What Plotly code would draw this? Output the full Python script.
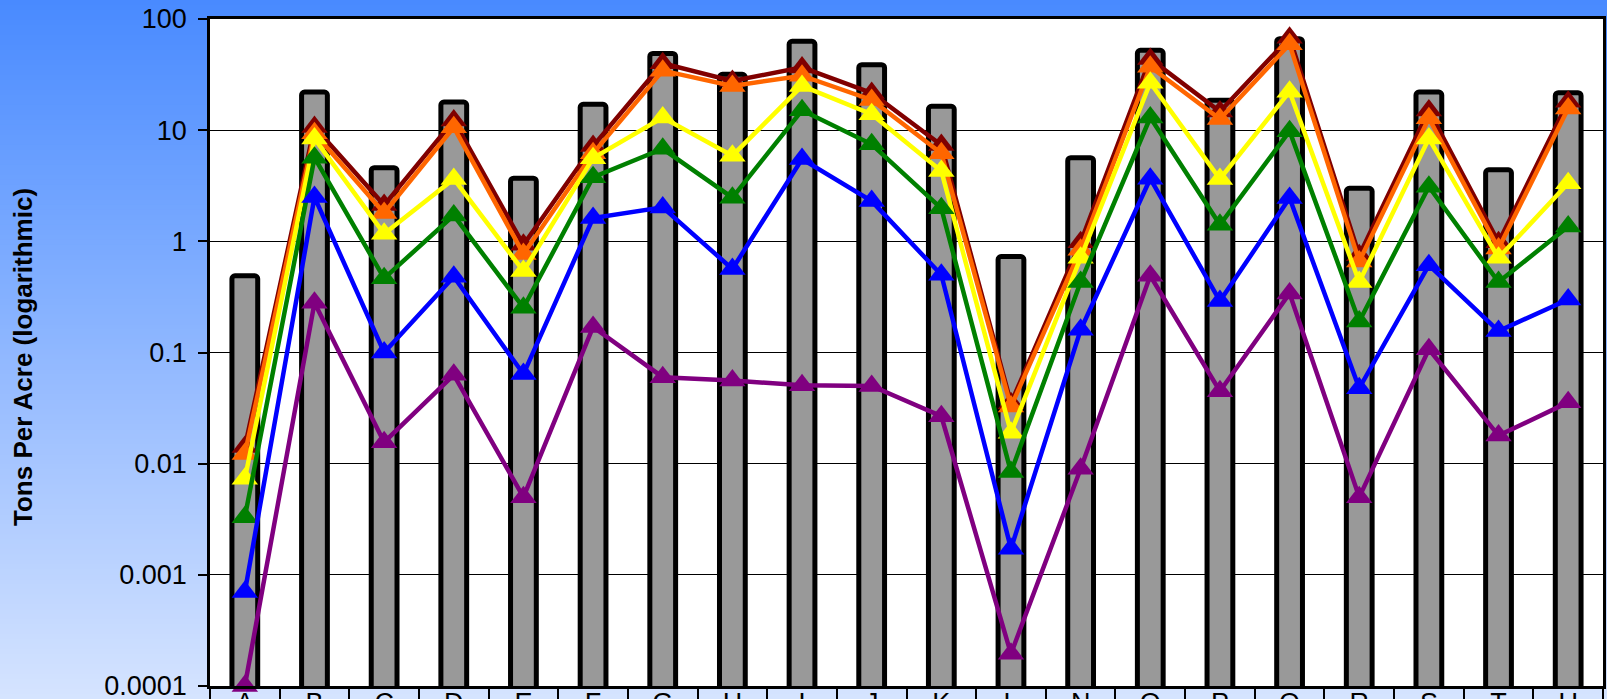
import plotly.graph_objects as go

# ---------------- data ----------------
categories = ["A", "B", "C", "D", "E", "F", "G", "H", "I", "J",
              "K", "L", "N", "O", "P", "Q", "R", "S", "T", "U"]

bar_values = [0.49, 22, 4.6, 17.9, 3.7, 17.1, 49, 31.8, 63, 38.8,
              16.4, 0.73, 5.65, 52.3, 18.6, 66.5, 3.0, 22, 4.4, 21.7]

darkred_values = [0.0141, 10.7, 2.12, 12.2, 0.93, 7.2, 40, 27.7, 36.7, 21.6,
                  7.35, 0.035, 0.98, 43.7, 14.7, 67.9, 0.75, 15, 0.98, 18]
orange_values = [0.0122, 9.4, 1.8, 10.6, 0.77, 6.2, 34.3, 25, 30.9, 18.7,
                 6.2, 0.0326, 0.84, 37.2, 12.6, 59.2, 0.66, 12.8, 0.86, 15.7]
yellow_values = [0.0073, 8.4, 1.17, 3.64, 0.54, 5.6, 13, 5.9, 25, 13.9,
                 4.3, 0.019, 0.71, 26.7, 3.64, 22.2, 0.43, 8.4, 0.71, 3.33]
green_values = [0.0033, 5.65, 0.465, 1.71, 0.253, 3.77, 6.8, 2.47, 15.1, 7.46,
                1.98, 0.0084, 0.43, 13, 1.41, 9.8, 0.19, 3.1, 0.43, 1.36]
blue_values = [0.0007, 2.5, 0.1, 0.48, 0.064, 1.62, 2.02, 0.564, 5.5, 2.3,
               0.5, 0.00172, 0.16, 3.66, 0.29, 2.45, 0.0477, 0.61, 0.156, 0.30]
purple_values = [0.0001, 0.28, 0.0156, 0.063, 0.005, 0.17, 0.06, 0.056, 0.0507, 0.05,
                 0.0267, 0.000195, 0.009, 0.49, 0.0448, 0.34, 0.005, 0.107, 0.0179, 0.0356]

y_tick_values = [0.0001, 0.001, 0.01, 0.1, 1, 10, 100]
y_tick_labels = ["0.0001", "0.001", "0.01", "0.1", "1", "10", "100"]
y_title = "Tons Per Acre (logarithmic)"

# ---------------- layout geometry / style ----------------
W, H = 1607, 699
ML, MR, MT, MB = 210, 4, 19, 13
FONT = "Liberation Sans, Arial, sans-serif"

fig = go.Figure()

fig.add_trace(go.Bar(
    x=categories, y=bar_values,
    width=0.37,
    marker=dict(color="#999999", line=dict(color="#000000", width=5), cornerradius=3),
    showlegend=False, hoverinfo="x+y",
))

series = [
    (darkred_values, "#800000"),
    (orange_values, "#FF6600"),
    (yellow_values, "#FFFF00"),
    (green_values, "#008000"),
    (blue_values, "#0000FF"),
    (purple_values, "#800080"),
]
for vals, col in series:
    fig.add_trace(go.Scatter(
        x=categories, y=vals, mode="lines+markers",
        line=dict(color=col, width=4.5),
        marker=dict(symbol="triangle-up", size=23, color=col, line=dict(width=0)),
        showlegend=False, cliponaxis=False,
    ))

# gradient background built from thin strips (paper coordinates)
pw = W - ML - MR
ph = H - MT - MB
x_left = -ML / pw
x_right = 1 + MR / pw
y_bottom = -MB / ph
y_top = 1 + MT / ph
top_rgb = (72, 138, 255)
bot_rgb = (214, 228, 255)
N = 140
shapes = []
for i in range(N):
    t0 = i / N
    t1 = (i + 1) / N
    tm = (i + 0.5) / N
    c = tuple(round(top_rgb[k] + (bot_rgb[k] - top_rgb[k]) * tm) for k in range(3))
    ya = y_top - (y_top - y_bottom) * t0
    yb = y_top - (y_top - y_bottom) * t1
    shapes.append(dict(type="rect", xref="paper", yref="paper",
                       x0=x_left, x1=x_right, y0=yb - 0.002, y1=ya,
                       fillcolor="rgb(%d,%d,%d)" % c, line=dict(width=0), layer="below"))
shapes.append(dict(type="rect", xref="paper", yref="paper", x0=0, x1=1, y0=0, y1=1,
                   fillcolor="#FFFFFF", line=dict(width=0), layer="below"))

# y-axis title placed as a rotated annotation centred at x=23px
title_x = (23 - ML) / pw
title_y = (H - MB - 357) / ph

fig.update_layout(
    width=W, height=H,
    margin=dict(l=ML, r=MR, t=MT, b=MB, pad=0, autoexpand=False),
    paper_bgcolor="rgb(214,228,255)",
    plot_bgcolor="#FFFFFF",
    shapes=shapes,
    font=dict(family=FONT, color="#000000"),
    annotations=[dict(
        text="<b>%s</b>" % y_title, xref="paper", yref="paper",
        x=title_x, y=title_y, xanchor="center", yanchor="middle",
        textangle=-90, showarrow=False,
        font=dict(size=26, family=FONT, color="#000000"),
    )],
    xaxis=dict(
        type="category", range=[-0.5, len(categories) - 0.5],
        showgrid=False, showline=True, linecolor="#000000", linewidth=2.5, mirror=True,
        ticks="outside", tickson="boundaries", ticklen=20, tickwidth=1.5, tickcolor="#000000",
        tickfont=dict(size=27, family=FONT, color="#000000"),
        ticklabelstandoff=-9, automargin=False, ticklabeloverflow="allow",
        fixedrange=True,
    ),
    yaxis=dict(
        type="log", range=[-4, 2],
        tickvals=y_tick_values, ticktext=y_tick_labels,
        showgrid=True, gridcolor="#000000", gridwidth=1,
        showline=True, linecolor="#000000", linewidth=2.5, mirror=True,
        ticks="outside", ticklen=9, tickwidth=1.5, tickcolor="#000000",
        tickfont=dict(size=27, family=FONT, color="#000000"),
        ticklabelstandoff=6, automargin=False, ticklabeloverflow="allow",
        zeroline=False, fixedrange=True,
    ),
)

# remove the default page margin so the figure sits at the window's top-left corner
fig.write_html("out.html",
               config={"displayModeBar": False},
               post_script="document.body.style.margin='0';document.body.style.overflow='hidden';")
